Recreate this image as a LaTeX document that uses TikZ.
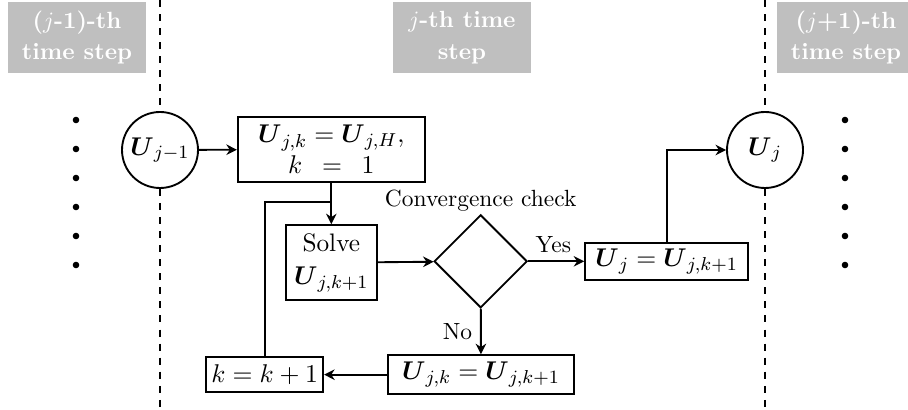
\documentclass[tikz,border=0pt]{standalone}
\usepackage{amsmath,amssymb}
\usepackage{tikz}
\usetikzlibrary{arrows.meta,shapes.geometric,calc}
\definecolor{Header}{HTML}{BFBFBF}
\definecolor{Ink}{HTML}{000000}

\begin{document}
\begin{tikzpicture}[
    box/.style={draw=Ink,thick,align=center,inner sep=2pt,font=\fontsize{10.8}{13}\selectfont},
    state/.style={draw=Ink,thick,circle,minimum size=1.14cm,inner sep=0pt,font=\fontsize{10.8}{13}\selectfont},
    header/.style={fill=Header,text=white,font=\bfseries,align=center,
      minimum width=2.07cm,minimum height=1.065cm,inner sep=0pt},
    flow/.style={thick,-{Stealth[length=4.5pt,width=4.5pt]}},
    divider/.style={thick,dashed}]
  \useasboundingbox (0,0) rectangle (13.62,6.15);
  % time step headers
  \node[header] (prevstep) at (1.155,5.59) {($j$-1)-th\\[1.5pt]time step};
  \node[header] (thisstep) at (6.93,5.59) {$j$-th time\\[1.5pt]step};
  \node[header] (nextstep) at (12.69,5.59) {($j$+1)-th\\[1.5pt]time step};
  % states at the step boundaries
  \node[state] (Uprev) at (2.40,3.90) {$\boldsymbol{U}_{j-1}$};
  \node[state] (Unext) at (11.475,3.90) {$\boldsymbol{U}_{j}$};
  \coordinate (prevtop) at (2.40,6.15);
  \coordinate (prevbot) at (2.40,0);
  \coordinate (nexttop) at (11.475,6.15);
  \coordinate (nextbot) at (11.475,0);
  \draw[divider] (prevtop) -- (Uprev.north);
  \draw[divider] (Uprev.south) -- (prevbot);
  \draw[divider] (nexttop) -- (Unext.north);
  \draw[divider] (Unext.south) -- (nextbot);
  \foreach \y in {4.35,3.915,3.48,3.045,2.61,2.175}{
    \fill[Ink] (1.14,\y) circle (1.4pt);
    \fill[Ink] (12.675,\y) circle (1.4pt);
  }
  % inner iteration
  \node[box,minimum width=2.805cm,minimum height=0.975cm] (init) at (4.97,3.91)
    {$\boldsymbol{U}_{j,k} = \boldsymbol{U}_{j,H},$\\$k\enspace=\enspace1$};
  \node[box,minimum width=1.365cm,minimum height=1.125cm] (solve) at (4.97,2.21)
    {Solve\\[1pt]$\boldsymbol{U}_{j,k+1}$};
  \node[draw=Ink,thick,diamond,minimum width=1.395cm,minimum height=1.395cm,inner sep=0pt,
    label={[inner sep=1pt]above:Convergence check}] (check) at (7.21,2.23) {};
  \node[box,minimum width=2.445cm,minimum height=0.555cm] (accept) at (10.0,2.23)
    {$\boldsymbol{U}_{j} = \boldsymbol{U}_{j,k+1}$};
  \node[box,minimum width=2.79cm,minimum height=0.585cm] (update) at (7.215,0.53)
    {$\boldsymbol{U}_{j,k} = \boldsymbol{U}_{j,k+1}$};
  \node[box,minimum width=1.755cm,minimum height=0.525cm] (kstep) at (3.97,0.53)
    {$k = k + 1$};
  \coordinate (join) at ($(init.south)!0.47!(solve.north)$);
  \draw[flow] (Uprev) -- (init);
  \draw[flow] (init) -- (solve);
  \draw[flow] (solve) -- (check);
  \draw[flow] (check) -- node[above,pos=0.45] {Yes} (accept);
  \draw[flow] (accept.north) |- (Unext.west);
  \draw[flow] (check) -- node[left,pos=0.5] {No} (update);
  \draw[flow] (update) -- (kstep);
  \draw[thick] (kstep.north) |- (join);
\end{tikzpicture}
\end{document}
